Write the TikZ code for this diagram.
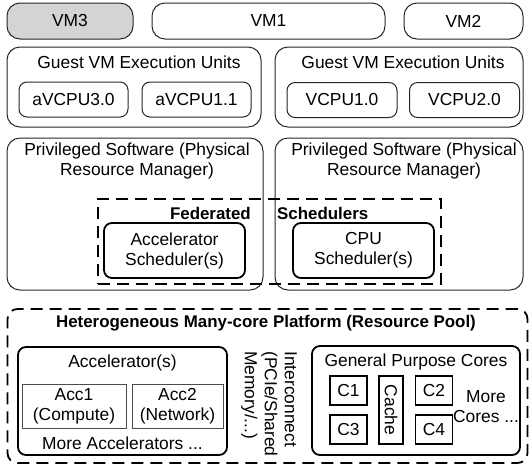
\documentclass[tikz,border=0pt]{standalone}
\usepackage{fontspec}
\setmainfont{Liberation Sans}
\begin{document}
\begin{tikzpicture}[x=1pt,y=-1pt,
  every node/.style={font=\fontsize{17.4}{20}\selectfont, inner sep=0pt, align=center},
  boldtxt/.style={font=\fontsize{16.9}{20}\selectfont\bfseries},
  rbox/.style={draw=black!85, line width=1pt, rounded corners=13pt},
  ibox/.style={draw=black!85, line width=1pt, rounded corners=8pt},
  tbox/.style={draw=black, line width=1.8pt, rounded corners=8pt},
  dbox/.style={draw=black, line width=1.8pt, dash pattern=on 12pt off 7pt},
  accbox/.style={draw=black!70, line width=1pt},
  corebox/.style={draw=black, line width=1.2pt},
  sz/.style n args={2}{minimum width=#1pt, minimum height=#2pt}]
\useasboundingbox (0,0) rectangle (529,467);

% VMs
\node[rbox, fill=black!17, sz={126}{36}] (vm3) at (70,21) {VM3};
\node[rbox, sz={233}{36}] (vm1) at (268.5,21) {VM1};
\node[rbox, sz={119}{36}] (vm2) at (463.5,21) {VM2};

% Guest VM Execution Units
\node[rbox, sz={254}{80}] (guestL) at (134,87) {};
\node (guestLt) at (139,62) {Guest VM Execution Units};
\node[ibox, sz={109}{35}] (av30) at (73.5,99.5) {aVCPU3.0};
\node[ibox, sz={109}{35}] (av11) at (196.5,99.5) {aVCPU1.1};

\node[rbox, sz={248}{80}] (guestR) at (399,87) {};
\node (guestRt) at (403,62) {Guest VM Execution Units};
\node[ibox, sz={110}{35}] (v10) at (342,100) {VCPU1.0};
\node[ibox, sz={110}{35}] (v20) at (464.5,100) {VCPU2.0};

% Privileged software
\node[rbox, sz={256}{152}] (privL) at (135,214) {};
\node (privLt) at (137,160.5) {Privileged Software (Physical\\Resource Manager)};
\node[rbox, sz={248}{152}] (privR) at (399,214) {};
\node (privRt) at (404,160.5) {Privileged Software (Physical\\Resource Manager)};

% Federated schedulers
\node[dbox, sz={343}{85}] (fed) at (269.5,241.5) {};
\node[anchor=east, boldtxt] (fedt1) at (251,213) {Federated};
\node[anchor=west, boldtxt] (fedt2) at (277,213) {Schedulers};
\node[tbox, sz={141}{55}] (accs) at (174.5,250.5) {Accelerator\\Scheduler(s)};
\node[tbox, sz={141}{55}] (cpus) at (363.5,250.5) {CPU\\Scheduler(s)};

% Heterogeneous platform
\node[dbox, rounded corners=10pt, sz={520}{154}] (het) at (267.5,386) {};
\node[boldtxt] (hett) at (266,323) {Heterogeneous Many-core Platform (Resource Pool)};

% Accelerators
\node[tbox, sz={209}{108}] (acc) at (122.5,401) {};
\node (acct) at (122.5,363) {Accelerator(s)};
\node[accbox, sz={104}{44}] (acc1) at (74,406) {Acc1\\(Compute)};
\node[accbox, sz={91}{44}] (acc2) at (177.5,406) {Acc2\\(Network)};
\node (accm) at (122.5,443) {More Accelerators ...};

% Interconnect
\node[rotate=-90, anchor=west, align=left] (ic) at (269,351) {Interconnect\\(PCIe/Shared\\Memory/...)};

% General purpose cores
\node[tbox, sz={208}{109}] (gpc) at (416,400.5) {};
\node (gpct) at (416,362) {General Purpose Cores};
\node[corebox, sz={37}{29}] (c1) at (348.5,390.5) {C1};
\node[corebox, sz={37}{29}] (c3) at (348.5,429.5) {C3};
\node[corebox, sz={24}{68}] (cache) at (391,410) {};
\node[rotate=-90] (cachet) at (cache.center) {Cache};
\node[corebox, sz={37}{29}] (c2) at (434,390.5) {C2};
\node[corebox, sz={37}{29}] (c4) at (434,429.5) {C4};
\node (more) at (486,407) {More\\Cores ...};
\end{tikzpicture}
\end{document}
